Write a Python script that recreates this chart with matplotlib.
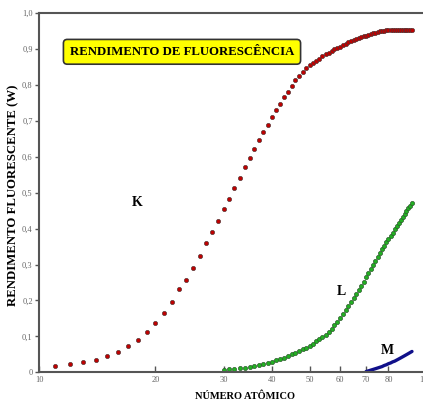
import numpy as np
import matplotlib.pyplot as plt
from matplotlib.ticker import FixedLocator, NullLocator

plt.rcParams['font.family'] = ['Liberation Serif', 'DejaVu Serif']

# Camada K (Z = 11 ... 92)
z_k = list(range(11, 93))
w_k = [0.018, 0.023, 0.028, 0.034, 0.046, 0.057, 0.072, 0.090, 0.111, 0.138,
       0.165, 0.196, 0.231, 0.258, 0.291, 0.324, 0.359, 0.391, 0.421, 0.454,
       0.481, 0.512, 0.542, 0.571, 0.596, 0.621, 0.646, 0.668, 0.689, 0.710,
       0.729, 0.747, 0.765, 0.780, 0.798, 0.813, 0.826, 0.837, 0.846, 0.854,
       0.861, 0.867, 0.873, 0.879, 0.885, 0.890, 0.894, 0.899, 0.903, 0.906,
       0.911, 0.915, 0.918, 0.921, 0.924, 0.927, 0.930, 0.933, 0.935, 0.937,
       0.939, 0.941, 0.943, 0.945, 0.947, 0.949, 0.950, 0.951, 0.952, 0.952,
       0.952, 0.952, 0.952, 0.952, 0.952, 0.952, 0.952, 0.952, 0.952, 0.952,
       0.952, 0.952]

# Camada L (Z = 30 ... 92)
z_l = list(range(30, 93))
w_l = [0.006, 0.008, 0.009, 0.011, 0.013, 0.015, 0.017, 0.019, 0.022, 0.025,
       0.029, 0.033, 0.037, 0.041, 0.045, 0.050, 0.054, 0.059, 0.064, 0.069,
       0.074, 0.080, 0.086, 0.092, 0.098, 0.105, 0.112, 0.121, 0.131, 0.141,
       0.152, 0.162, 0.173, 0.184, 0.195, 0.207, 0.218, 0.229, 0.241, 0.252,
       0.264, 0.276, 0.288, 0.299, 0.310, 0.321, 0.331, 0.342, 0.352, 0.362,
       0.371, 0.380, 0.389, 0.398, 0.407, 0.416, 0.424, 0.432, 0.440, 0.448,
       0.456, 0.463, 0.471]

# Camada M (Z = 70 ... 92)
z_m = list(range(70, 93))
w_m = [0.002, 0.004, 0.006, 0.008, 0.010, 0.012, 0.014, 0.016, 0.019, 0.021,
       0.024, 0.026, 0.029, 0.031, 0.034, 0.037, 0.040, 0.043, 0.046, 0.049,
       0.052, 0.055, 0.058]

x_ticks = [10, 20, 30, 40, 50, 60, 70, 80, 100]
y_ticks = [0, 0.1, 0.2, 0.3, 0.4, 0.5, 0.6, 0.7, 0.8, 0.9, 1.0]

fig = plt.figure(figsize=(4.23, 4.03), dpi=100)
# o eixo continua um pouco além da borda direita, como no original recortado
ax = fig.add_axes([39 / 423, 30.7 / 403, 387 / 423, 359.3 / 403])

ax.plot(z_k, w_k, 'o', ms=3.0, mfc='#c00000', mec='#553333', mew=0.5)
ax.plot(z_l, w_l, 'o', ms=3.0, mfc='#22b022', mec='#2d5a2d', mew=0.5)
ax.plot(z_m, w_m, '-', lw=2.4, color='#10108a', solid_capstyle='round')

ax.set_xscale('log')
ax.set_xlim(10, 100)
ax.set_ylim(0, 1)
ax.xaxis.set_major_locator(FixedLocator(x_ticks))
ax.xaxis.set_minor_locator(NullLocator())
ax.set_xticklabels([str(v) for v in x_ticks])
ax.set_yticks(y_ticks)
ax.set_yticklabels(['0'] + [f"{v:.1f}".replace('.', ',') for v in y_ticks[1:]])

ax.tick_params(axis='x', direction='in', length=4, width=1, colors='#555555',
               labelsize=6, labelcolor='#666666', pad=3)
ax.tick_params(axis='y', direction='out', length=3, width=1, colors='#555555',
               labelsize=6, labelcolor='#666666', pad=1.5)
for s in ax.spines.values():
    s.set_color('#555555')
    s.set_linewidth(1.5)

ax.text(17.9, 0.472, 'K', fontsize=10, fontweight='bold', ha='center', va='center')
ax.text(60.3, 0.224, 'L', fontsize=10, fontweight='bold', ha='center', va='center')
ax.text(79.3, 0.062, 'M', fontsize=10, fontweight='bold', ha='center', va='center')

ax.text(0.3695, 0.892, 'RENDIMENTO DE FLUORESCÊNCIA', transform=ax.transAxes,
        ha='center', va='center', fontsize=9.2, fontweight='bold',
        bbox=dict(boxstyle='round,pad=0.5,rounding_size=0.3', fc='#ffff00',
                  ec='#333333', lw=1.2))

fig.text(13 / 423, 1 - 195 / 403, 'RENDIMENTO FLUORESCENTE (W)', rotation=90,
         ha='center', va='center', fontsize=9.2, fontweight='bold')
fig.text(245 / 423, 1 - 396 / 403, 'NÚMERO ATÔMICO', ha='center', va='center',
         fontsize=7.5, fontweight='bold')

fig.savefig('out.png', dpi=100)
